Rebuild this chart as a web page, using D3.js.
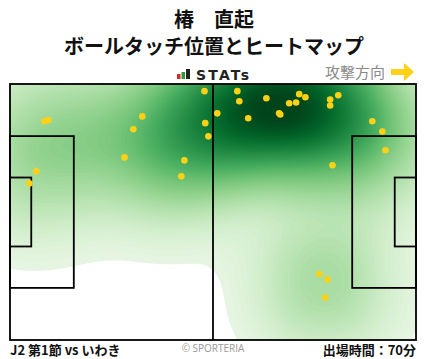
<!DOCTYPE html>
<html>
<head>
  <meta charset="UTF-8">
  <title>ボールタッチ位置とヒートマップ</title>
  <script src="https://d3js.org/d3.v7.min.js"></script>
  <style>
    body { margin: 0; background: #fff; }
    text { font-family: "Noto Sans CJK JP", "Noto Sans", sans-serif; }
  </style>
</head>
<body>
  <script>
    // ball touch positions, in metres (pitch 105 x 68, attacking to the right)
    var touchX = [50.3, 8.9, 9.9, 34.2, 50.5, 31.9, 51.3, 29.6, 45.1, 44.3, 6.8, 5.0,
                  58.8, 59.3, 53.6, 66.3, 61.6, 69.6, 69.9, 72.2, 74.0, 74.8, 76.4,
                  82.8, 82.8, 84.9, 93.7, 96.3, 97.1, 83.4, 80.0, 82.1, 81.5];
    var touchY = [1.9, 9.9, 9.6, 8.6, 10.4, 12.0, 13.9, 19.5, 20.3, 24.5, 23.2, 26.4,
                  1.9, 4.6, 7.8, 3.8, 9.1, 7.8, 8.1, 5.1, 4.9, 2.7, 3.5,
                  4.1, 5.7, 3.0, 9.9, 12.6, 17.6, 21.6, 50.5, 51.9, 56.7];

    var playerName = "椿　直起";
    var chartTitle = "ボールタッチ位置とヒートマップ";
    var matchLabel = "J2 第1節 vs いわき";
    var minutesLabel = "出場時間：70分";

    var W = 428, H = 359;
    var pitch = { left: 10, top: 84, width: 406, height: 256 };

    var x = d3.scaleLinear().domain([0, 105]).range([pitch.left, pitch.left + pitch.width]);
    var y = d3.scaleLinear().domain([0, 68]).range([pitch.top, pitch.top + pitch.height]);

    var points = touchX.map(function (d, i) { return { x: d, y: touchY[i] }; });

    var svg = d3.select("body").append("svg")
      .attr("width", W)
      .attr("height", H);

    // titles
    svg.append("text").attr("x", 214).attr("y", 27).attr("text-anchor", "middle")
      .style("font-size", "20px").style("font-weight", "bold").attr("fill", "#111")
      .text(playerName);
    svg.append("text").attr("x", 214).attr("y", 54).attr("text-anchor", "middle")
      .style("font-size", "20px").style("font-weight", "bold").attr("fill", "#111")
      .text(chartTitle);

    // STATs logo
    var logo = svg.append("g");
    logo.append("rect").attr("x", 177).attr("y", 74).attr("width", 3.5).attr("height", 5).attr("fill", "#e0262b");
    logo.append("rect").attr("x", 181.5).attr("y", 72).attr("width", 3.5).attr("height", 7).attr("fill", "#2a9a3c");
    logo.append("rect").attr("x", 186).attr("y", 69).attr("width", 4).attr("height", 10).attr("fill", "#222");
    logo.append("text").attr("x", 196).attr("y", 79.5)
      .style("font-family", "'DejaVu Sans', sans-serif")
      .style("font-size", "14px").style("font-weight", "bold").attr("fill", "#222")
      .attr("textLength", 53)
      .text("STATs");

    // attack direction
    svg.append("text").attr("x", 385).attr("y", 78).attr("text-anchor", "end")
      .style("font-size", "15px").attr("fill", "#8a8a8a")
      .text("攻撃方向");
    svg.append("path")
      .attr("d", "M391,69 L404,69 L404,63 L414,72 L404,81 L404,75 L391,75 Z")
      .attr("fill", "#fcd116");

    // clip for the heatmap
    svg.append("clipPath").attr("id", "pitch-clip")
      .append("rect")
      .attr("x", pitch.left).attr("y", pitch.top)
      .attr("width", pitch.width).attr("height", pitch.height);

    svg.append("rect")
      .attr("x", pitch.left).attr("y", pitch.top)
      .attr("width", pitch.width).attr("height", pitch.height)
      .attr("fill", "#fff");

    var density = d3.contourDensity()
      .x(function (d) { return x(d.x); })
      .y(function (d) { return y(d.y); })
      .size([W, H])
      .cellSize(2)
      .bandwidth(44)
      .thresholds(90)(points);

    var maxD = d3.max(density, function (d) { return d.value; });
    var lowD = maxD * 0.02;
    density = density.filter(function (d) { return d.value >= lowD; });

    var color = d3.scaleSequentialPow(d3.interpolateGreens)
      .exponent(0.85)
      .domain([-maxD * 0.05, maxD * 0.98]);

    svg.append("g")
      .attr("clip-path", "url(#pitch-clip)")
      .selectAll("path")
      .data(density)
      .enter()
      .append("path")
      .attr("d", d3.geoPath())
      .attr("fill", function (d) { return color(d.value); });

    // pitch lines
    var lines = svg.append("g")
      .attr("fill", "none")
      .attr("stroke", "#000")
      .attr("stroke-width", 1.8);

    lines.append("rect")
      .attr("x", x(0)).attr("y", y(0))
      .attr("width", x(105) - x(0)).attr("height", y(68) - y(0));
    lines.append("line")
      .attr("x1", x(52.5)).attr("x2", x(52.5))
      .attr("y1", y(0)).attr("y2", y(68));
    // penalty areas and goal areas
    lines.append("rect")
      .attr("x", x(0)).attr("y", y(13.84))
      .attr("width", x(16.5) - x(0)).attr("height", y(54.16) - y(13.84));
    lines.append("rect")
      .attr("x", x(0)).attr("y", y(24.84))
      .attr("width", x(5.5) - x(0)).attr("height", y(43.16) - y(24.84));
    lines.append("rect")
      .attr("x", x(88.5)).attr("y", y(13.84))
      .attr("width", x(105) - x(88.5)).attr("height", y(54.16) - y(13.84));
    lines.append("rect")
      .attr("x", x(99.5)).attr("y", y(24.84))
      .attr("width", x(105) - x(99.5)).attr("height", y(43.16) - y(24.84));

    // touches
    svg.append("g")
      .selectAll("circle")
      .data(points)
      .enter()
      .append("circle")
      .attr("cx", function (d) { return x(d.x); })
      .attr("cy", function (d) { return y(d.y); })
      .attr("r", 3.3)
      .attr("fill", "#fcd116");

    // footer
    svg.append("text").attr("x", 10).attr("y", 355)
      .style("font-size", "13px").style("font-weight", "bold").attr("fill", "#111")
      .text(matchLabel);
    svg.append("text").attr("x", 213).attr("y", 352).attr("text-anchor", "middle")
      .style("font-family", "'Open Sans', sans-serif")
      .style("font-size", "10px").attr("fill", "#999")
      .text("© SPORTERIA");
    svg.append("text").attr("x", 416).attr("y", 355).attr("text-anchor", "end")
      .style("font-size", "13px").style("font-weight", "bold").attr("fill", "#111")
      .text(minutesLabel);
  </script>
</body>
</html>
